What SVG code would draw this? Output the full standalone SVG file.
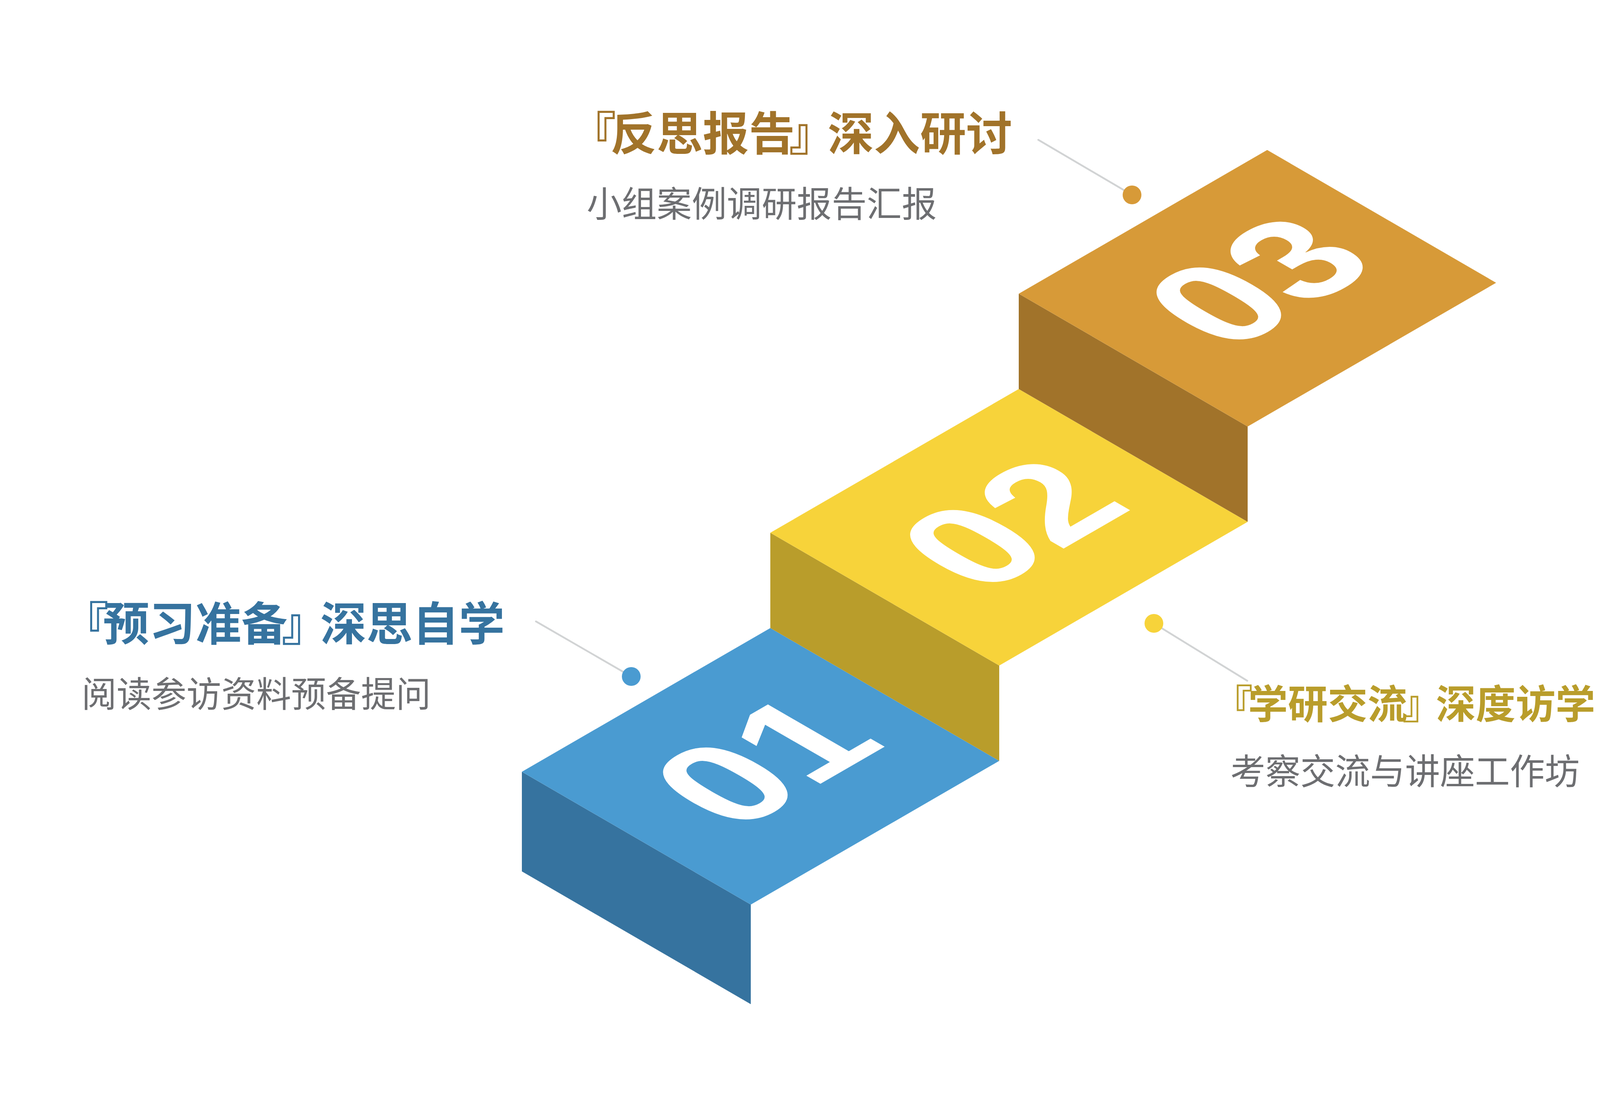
<svg xmlns="http://www.w3.org/2000/svg" width="4554" height="2824" viewBox="0 0 4554 2824">
<style>
.title{font-family:"Noto Sans CJK SC","Noto Sans CJK JP",sans-serif;font-weight:700;font-size:118px}
.title2{font-family:"Noto Sans CJK SC","Noto Sans CJK JP",sans-serif;font-weight:700;font-size:102px}
.sub{font-family:"Noto Sans CJK SC",sans-serif;font-weight:400;font-size:91px;fill:#6D6E71}
.num{font-family:"Liberation Sans",Arial,sans-serif;font-weight:700;font-size:408px;fill:#FFFFFF}
.conn{stroke:#D1D3D4;stroke-width:4.5;stroke-linecap:round;fill:none}
</style>
<rect width="4554" height="2824" fill="#FFFFFF"/>
<g id="connectors">
<line class="conn" x1="1372" y1="1591" x2="1616" y2="1732"/>
<line class="conn" x1="2954" y1="1596" x2="3193" y2="1743"/>
<line class="conn" x1="2658" y1="358" x2="2898" y2="499"/>
</g>
<g id="step1">
<polygon points="1336,1976 1922,2316 1922,2571 1336,2231" fill="#36739F"/>
<polygon points="1336,1976 1972,1608 2558,1948 1922,2316" fill="#4A9BD1"/>
<text class="num" transform="matrix(0.866,-0.5,0.866,0.5,1336,1976)" x="158" y="472">01</text>
<circle cx="1616" cy="1732" r="24" fill="#4A9BD1"/>
<text class="title" fill="#36739F" x="160" y="1640" dx="0 -14 0 0 0 -15 -19 0 0 0">『预习准备』深思自学</text>
<text class="sub" x="209" y="1810" textLength="894" lengthAdjust="spacingAndGlyphs">阅读参访资料预备提问</text>
</g>
<g id="step2">
<polygon points="1972,1364 2558,1704 2558,1948 1972,1608" fill="#B99D2B"/>
<polygon points="1972,1364 2608,996 3194,1336 2558,1704" fill="#F7D33A"/>
<text class="num" transform="matrix(0.866,-0.5,0.866,0.5,1972,1364)" x="152" y="474">02</text>
<circle cx="2954" cy="1596" r="24" fill="#F7D33A"/>
<text class="title2" fill="#B99D2B" x="3105" y="1840" dx="0 -12 0 0 0 -13 -16 0 0 0">『学研交流』深度访学</text>
<text class="sub" x="3150" y="2008" textLength="894" lengthAdjust="spacingAndGlyphs">考察交流与讲座工作坊</text>
</g>
<g id="step3">
<polygon points="2608,752 3194,1092 3194,1336 2608,996" fill="#A1732A"/>
<polygon points="2608,752 3244,384 3830,724 3194,1092" fill="#D79A38"/>
<text class="num" transform="matrix(0.866,-0.5,0.866,0.5,2608,752)" x="158" y="462">03</text>
<circle cx="2898" cy="499" r="24" fill="#D79A38"/>
<text class="title" fill="#A1732A" x="1459" y="385" dx="0 -14 0 0 0 -15 -19 0 0 0">『反思报告』深入研讨</text>
<text class="sub" x="1502" y="555" textLength="896" lengthAdjust="spacingAndGlyphs">小组案例调研报告汇报</text>
</g>
</svg>
